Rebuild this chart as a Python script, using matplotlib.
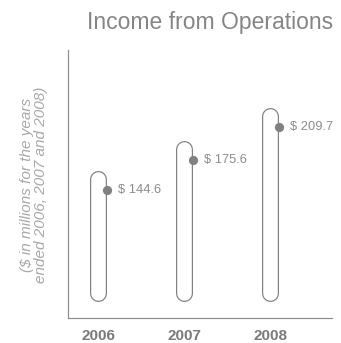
"""Income from Operations: capsule bars with value markers."""
import matplotlib

matplotlib.use("Agg")
import matplotlib.pyplot as plt  # noqa: E402
from matplotlib.transforms import offset_copy  # noqa: E402

years = ["2006", "2007", "2008"]
income = [144.6, 175.6, 209.7]
value_labels = ["$ 144.6", "$ 175.6", "$ 209.7"]

W, H, DPI = 341, 343, 100
BASE = 11          # capsule bottom (data units)
DOT_DROP = 20      # marker sits this far below the capsule top (data units)
CAP_PX = 17        # capsule outer width in pixels
EDGE_PX = 1.2      # outline thickness in pixels
YLIM = (-6, 268)
XLIM = (-0.35, 2.72)

plt.rcParams["font.family"] = ["Liberation Sans", "DejaVu Sans"]

fig = plt.figure(figsize=(W / DPI, H / DPI), dpi=DPI)
left, right, bottom, top = 68, 332, 318, 50
ax = fig.add_axes([left / W, (H - bottom) / H, (right - left) / W, (bottom - top) / H])
ax.set_xlim(*XLIM)
ax.set_ylim(*YLIM)

px_per_unit = (bottom - top) / (YLIM[1] - YLIM[0])
r_units = (CAP_PX / 2) / px_per_unit
pt = 72 / DPI

edge = "#808080"
for i, v in enumerate(income):
    ys = [BASE + r_units, v - r_units]
    ax.plot([i, i], ys, color=edge, lw=CAP_PX * pt,
            solid_capstyle="round", zorder=2)
    ax.plot([i, i], ys, color="white", lw=(CAP_PX - 2 * EDGE_PX) * pt,
            solid_capstyle="round", zorder=3)

# markers sit on the right edge of each capsule
dot_tr = offset_copy(ax.transData, fig=fig, x=CAP_PX / 2, y=0, units="dots")
for i, v in enumerate(income):
    ax.scatter([i], [v - DOT_DROP], s=44, color="#808080", lw=0,
               transform=dot_tr, zorder=4, clip_on=False)
    ax.annotate(value_labels[i], (i, v - DOT_DROP), xycoords=dot_tr,
                xytext=(11.5 * pt, 0), textcoords="offset points",
                va="center", ha="left", fontsize=9.3, color="#8c8c8c")

for side in ("top", "right"):
    ax.spines[side].set_visible(False)
for side in ("left", "bottom"):
    ax.spines[side].set_color("#8c8c8c")
    ax.spines[side].set_linewidth(1.2 * pt)

ax.set_yticks([])
ax.set_xticks(range(len(years)))
ax.set_xticklabels(years, fontsize=11, fontweight="bold", color="#7a7a7a")
ax.tick_params(axis="x", length=0, pad=8)

fig.text(210 / W, 1 - 22 / H, "Income from Operations", ha="center",
         va="center", fontsize=16.5, color="#858585")
fig.text(34 / W, 1 - 185 / H,
         "($ in millions for the years\nended 2006, 2007 and 2008)",
         rotation=90, ha="center", va="center", fontsize=11,
         style="italic", color="#a8a8a8", linespacing=1.0,
         multialignment="center")

fig.savefig("out.png", dpi=DPI)
